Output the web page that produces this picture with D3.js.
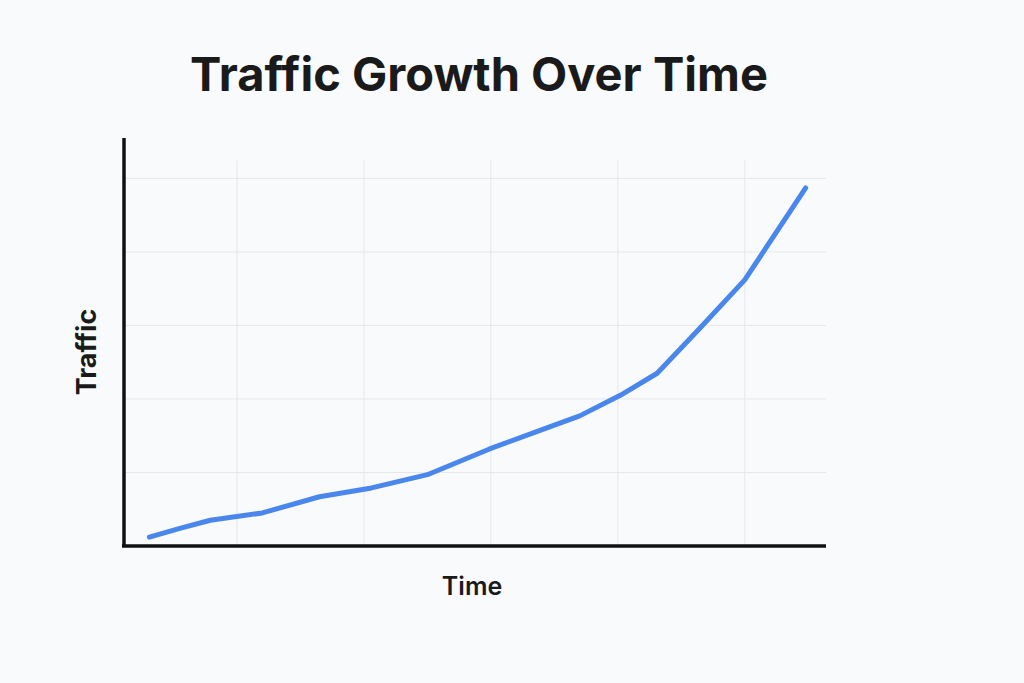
<!DOCTYPE html>
<html><head><meta charset="utf-8">
<script src="https://cdn.jsdelivr.net/npm/d3@7"></script>
<style>body{margin:0;background:#f9fafb}svg{display:block}</style>
</head><body>
<svg id="chart" width="1024" height="683"></svg>
<script>
// time (grid units) and traffic (grid units)
var timeVals = [0.2, 0.44, 0.68, 1.09, 1.54, 1.95, 2.39, 2.88, 3.24, 3.59, 3.91, 4.2, 4.54, 4.89, 5.37];
var trafficVals = [0.12, 0.24, 0.35, 0.45, 0.67, 0.79, 0.97, 1.32, 1.55, 1.77, 2.05, 2.35, 2.97, 3.62, 4.87];
var xGrid = [0.89, 1.89, 2.89, 3.89, 4.89];
var yGrid = [1, 2, 3, 4, 5];

var svg = d3.select("#chart");
var x = d3.scaleLinear().domain([0, 5.53]).range([124, 826]);
var y = d3.scaleLinear().domain([0, 5.55]).range([546, 138]);

svg.append("rect").attr("width", 1024).attr("height", 683).attr("fill", "#f9fafb");

svg.append("g").selectAll("line").data(xGrid).enter().append("line")
  .attr("x1", d => x(d)).attr("x2", d => x(d)).attr("y1", y(5.25)).attr("y2", 546)
  .attr("stroke", "#e6e7e9").attr("stroke-width", 1);
svg.append("g").selectAll("line").data(yGrid).enter().append("line")
  .attr("x1", 124).attr("x2", 826).attr("y1", d => y(d)).attr("y2", d => y(d))
  .attr("stroke", "#e6e7e9").attr("stroke-width", 1);

// axes
svg.append("line").attr("x1", 124).attr("x2", 124).attr("y1", 138).attr("y2", 547)
  .attr("stroke", "#111").attr("stroke-width", 3.5);
svg.append("line").attr("x1", 122).attr("x2", 826).attr("y1", 546).attr("y2", 546)
  .attr("stroke", "#111").attr("stroke-width", 3.5);

var line = d3.line().x(d => x(d[0])).y(d => y(d[1]));
svg.append("path").datum(d3.zip(timeVals, trafficVals))
  .attr("d", line).attr("fill", "none").attr("stroke", "#4a87ec")
  .attr("stroke-width", 5).attr("stroke-linecap", "round").attr("stroke-linejoin", "round");

svg.append("text").attr("x", 479).attr("y", 91).attr("text-anchor", "middle")
  .attr("font-family", "Inter, 'Open Sans', sans-serif").attr("font-weight", 700)
  .attr("font-size", 47).attr("fill", "#1a1a1a").text("Traffic Growth Over Time");
svg.append("text").attr("x", 472).attr("y", 595).attr("text-anchor", "middle")
  .attr("font-family", "Inter, 'Open Sans', sans-serif").attr("font-weight", 600)
  .attr("font-size", 25).attr("fill", "#1a1a1a").text("Time");
svg.append("text").attr("transform", "translate(96,352) rotate(-90)").attr("text-anchor", "middle")
  .attr("font-family", "Inter, 'Open Sans', sans-serif").attr("font-weight", 700)
  .attr("font-size", 27).attr("fill", "#1a1a1a").text("Traffic");
</script>
</body></html>
